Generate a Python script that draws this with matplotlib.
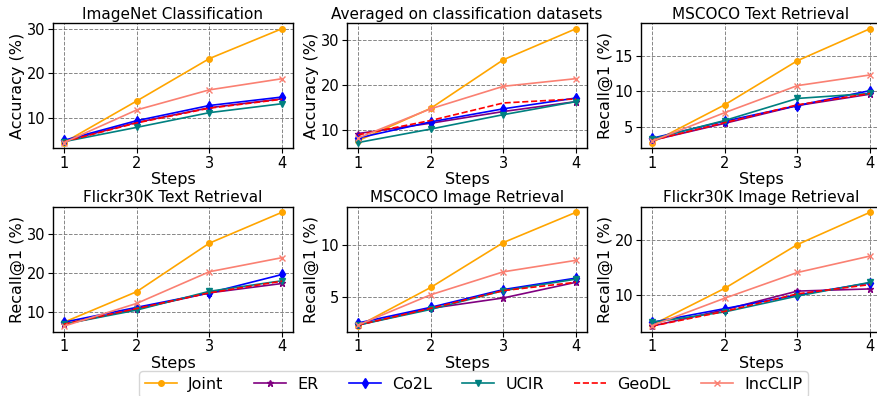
import matplotlib
matplotlib.use("Agg")
import matplotlib.pyplot as plt

steps = [1, 2, 3, 4]

titles = ["ImageNet Classification", "Averaged on classification datasets", "MSCOCO Text Retrieval",
          "Flickr30K Text Retrieval", "MSCOCO Image Retrieval", "Flickr30K Image Retrieval"]
ylabels = ["Accuracy (%)", "Accuracy (%)", "Recall@1 (%)",
           "Recall@1 (%)", "Recall@1 (%)", "Recall@1 (%)"]

# one list per method, one row per panel
joint = [[4.5, 13.8, 23.3, 30.0], [7.7, 14.9, 25.7, 32.6], [2.8, 8.1, 14.3, 18.8],
         [7.5, 15.3, 27.7, 35.6], [2.2, 5.9, 10.2, 13.1], [4.5, 11.2, 19.2, 25.1]]
er = [[4.8, 9.0, 12.3, 14.3], [9.3, 11.6, 14.2, 16.4], [3.1, 5.5, 8.0, 9.6],
      [7.0, 10.9, 15.0, 17.4], [2.3, 3.9, 4.9, 6.4], [4.3, 7.3, 10.7, 11.1]]
co2l = [[5.0, 9.4, 12.8, 14.7], [8.3, 11.9, 14.8, 17.2], [3.4, 5.8, 8.0, 10.1],
        [7.5, 11.3, 15.0, 19.7], [2.5, 4.0, 5.7, 6.8], [5.0, 7.5, 10.0, 12.2]]
ucir = [[4.7, 7.9, 11.2, 13.2], [7.3, 10.3, 13.5, 16.4], [3.3, 5.9, 9.0, 9.7],
        [7.0, 10.6, 15.4, 18.1], [2.3, 3.8, 5.6, 6.7], [5.0, 6.9, 9.8, 12.3]]
geodl = [[4.7, 8.9, 12.2, 14.2], [9.0, 12.2, 16.1, 17.0], [3.1, 5.6, 8.1, 9.7],
         [7.0, 11.0, 15.0, 18.0], [2.3, 3.9, 5.6, 6.4], [4.3, 7.0, 10.2, 11.9]]
incclip = [[4.5, 11.8, 16.3, 18.8], [8.3, 14.8, 19.8, 21.5], [3.0, 7.0, 10.8, 12.3],
           [6.5, 12.3, 20.4, 24.0], [2.3, 5.2, 7.4, 8.5], [4.4, 9.4, 14.1, 17.1]]

methods = [
    ("Joint", joint, dict(color="orange", marker="o", ms=4)),
    ("ER", er, dict(color="purple", marker="*", ms=5)),
    ("Co2L", co2l, dict(color="blue", marker="d", ms=5)),
    ("UCIR", ucir, dict(color="teal", marker="v", ms=5)),
    ("GeoDL", geodl, dict(color="red", linestyle="--")),
    ("IncCLIP", incclip, dict(color="salmon", marker="x", ms=5)),
]

fig, axes = plt.subplots(2, 3, figsize=(8.77, 3.96), dpi=100)
fig.subplots_adjust(left=0.0604, right=1.0046, top=0.942, bottom=0.162, wspace=0.225, hspace=0.465)

for i, ax in enumerate(axes.flat):
    for name, vals, kw in methods:
        ax.plot(steps, vals[i], label=name, lw=1.2, **kw)
    ax.set_title(titles[i], fontsize=11, pad=3)
    ax.set_ylabel(ylabels[i], fontsize=11.5, labelpad=1)
    ax.set_xlabel("Steps", fontsize=11.5, labelpad=1)
    ax.set_xticks(steps)
    ax.tick_params(labelsize=10.5, pad=2)
    ax.grid(True, linestyle="--", color="dimgray", alpha=0.8, lw=0.7)
    for s in ax.spines.values():
        s.set_linewidth(1.0)

handles, labels = axes[0, 0].get_legend_handles_labels()
fig.legend(handles, labels, loc="upper center", ncol=6, fontsize=11.5,
           bbox_to_anchor=(0.54, 0.062), borderaxespad=0, borderpad=0.35,
           handlelength=2.0, handletextpad=0.7, columnspacing=1.9)

fig.savefig("out.png", dpi=100)
